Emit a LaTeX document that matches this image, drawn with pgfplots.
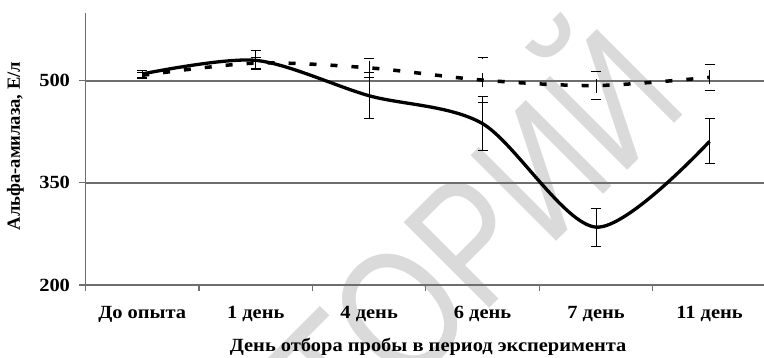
\documentclass[border=0pt]{standalone}
\usepackage{pgfplots}
\pgfplotsset{compat=1.18}
\usepackage{fontspec}
\setmainfont{Liberation Serif}[FakeStretch=1.1]
\newfontfamily\ylfont{Liberation Serif}
\newfontfamily\wmfont{Liberation Sans}[FakeStretch=0.8]

\definecolor{axisgray}{HTML}{6E6E6E}
\definecolor{wmgray}{HTML}{DADADA}

\begin{document}
\begin{tikzpicture}[x=1pt,y=1pt]
\useasboundingbox (0,0) rectangle (764,357);
% repository watermark behind the chart
\node[text=wmgray, rotate=45, inner sep=0pt,
      font=\wmfont\fontsize{176}{176}\selectfont] at (464,134) {ТОРИЙ};
\begin{axis}[
  at={(85.5pt,72pt)}, anchor=south west,
  scale only axis, width=678.5pt, height=272.3pt,
  xmin=-0.5, xmax=5.48, ymin=200, ymax=600,
  axis lines*=left,
  axis line style={axisgray, line width=1.5pt},
  ytick={200,350,500},
  ymajorgrids,
  grid style={axisgray, line width=1.5pt},
  xtick={0,1,2,3,4,5},
  xticklabels={До опыта, 1 день, 4 день, 6 день, 7 день, 11 день},
  minor xtick={-0.5,0.5,1.5,2.5,3.5,4.5},
  major x tick style={draw=none},
  tick align=outside,
  major tick length=6pt, minor tick length=6pt,
  tick style={axisgray, line width=1.2pt},
  ticklabel style={font=\bfseries\fontsize{18.6}{22}\selectfont, text=black},
  /pgf/number format/assume math mode=true,
  yticklabel style={xshift=-6pt},
  xticklabel style={text height=13pt, text depth=4pt, yshift=-11pt},
  xlabel={День отбора пробы в период эксперимента},
  ylabel={\ylfont Альфа-амилаза, Е/л},
  label style={font=\bfseries\fontsize{18.6}{22}\selectfont},
  xlabel style={at={(axis description cs:0.505,-0.2277)}, anchor=center},
  ylabel style={at={(axis description cs:-0.1032,0.5105)}, anchor=center, rotate=0},
  error bars/error bar style={black, line width=1pt},
  error bars/error mark options={rotate=90, mark size=5pt, line width=1pt, black},
]
% control group
\addplot[black, line width=3.5pt, line cap=butt,
         dash pattern=on 7pt off 14pt, smooth,
         error bars/.cd, y dir=both, y explicit]
  coordinates {
    (0,508) +- (0,4)
    (1,526) +- (0,8)
    (2,519) +- (0,14)
    (3,501) +- (0,33)
    (4,493) +- (0,20)
    (5,505) +- (0,19)
  };
% experimental group
\addplot[black, line width=3.3pt, smooth,
         error bars/.cd, y dir=both, y explicit]
  coordinates {
    (0,510) +- (0,5.5)
    (1,530) +- (0,14)
    (2,478) +- (0,34)
    (3,437) +- (0,40)
    (4,285) +- (0,28)
    (5,411) +- (0,33)
  };
\end{axis}
\end{tikzpicture}
\end{document}
